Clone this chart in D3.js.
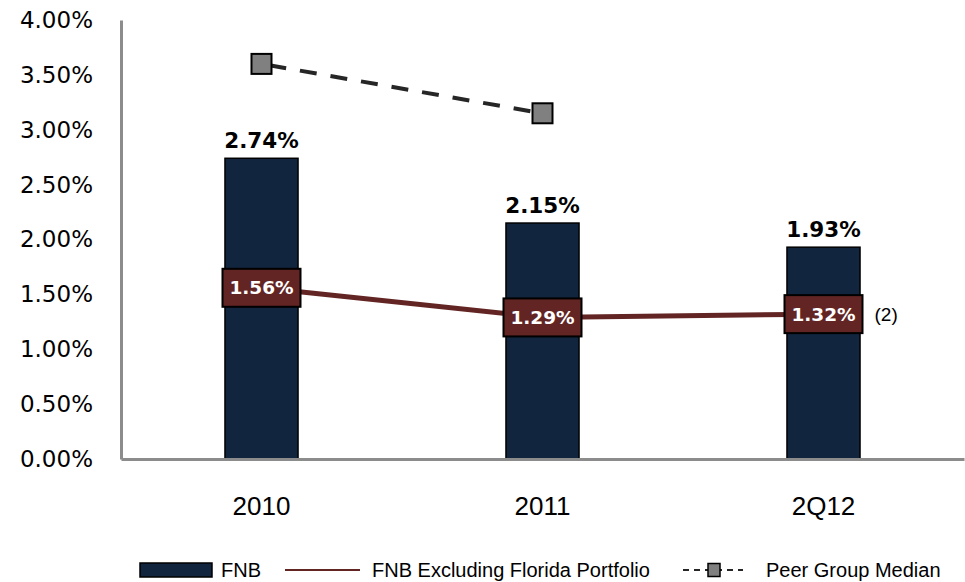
<!DOCTYPE html>
<html>
<head>
<meta charset="utf-8">
<script src="https://cdn.jsdelivr.net/npm/d3@7"></script>
<style>
  body { margin: 0; background: #fff; }
  svg { display: block; }
</style>
</head>
<body>
<div id="chart"></div>
<script>
// data
const periods = ["2010", "2011", "2Q12"];
const fnb = [2.74, 2.15, 1.93];
const fnbExFlorida = [1.56, 1.29, 1.32];
const peerMedian = [3.60, 3.15, null];
const yTicks = [0, 0.5, 1, 1.5, 2, 2.5, 3, 3.5, 4];

const width = 965, height = 582;
const margin = { top: 20, right: 1, bottom: 123, left: 121 };

const barColor = "#12253f";
const lineColor = "#632523";
const peerColor = "#808080";

const svg = d3.select("#chart").append("svg")
  .attr("width", width)
  .attr("height", height);

const x = d3.scaleBand()
  .domain(periods)
  .range([margin.left, width - margin.right])
  .paddingInner(0.74)
  .paddingOuter(0.37);

const y = d3.scaleLinear()
  .domain([0, 4])
  .range([height - margin.bottom, margin.top]);

const cx = d => x(d) + x.bandwidth() / 2;

// y axis
const yAxis = g => g
  .attr("transform", `translate(${margin.left},0)`)
  .call(d3.axisLeft(y).tickValues(yTicks).tickSize(0).tickPadding(28)
    .tickFormat(d => d.toFixed(2) + "%"))
  .call(g => g.select(".domain").attr("stroke", "#8c8c8c").attr("stroke-width", 3))
  .call(g => g.selectAll("text")
    .attr("fill", "#000")
    .style("font", "23px 'DejaVu Sans', sans-serif"));

// x axis
const xAxis = g => g
  .attr("transform", `translate(0,${y(0)})`)
  .call(d3.axisBottom(x).tickSize(0).tickPadding(38))
  .call(g => g.select(".domain").attr("stroke", "#8c8c8c").attr("stroke-width", 3))
  .call(g => g.selectAll("text")
    .attr("fill", "#000")
    .style("font", "26px 'Liberation Sans', sans-serif"));

// bars
svg.append("g")
  .selectAll("rect")
  .data(fnb)
  .join("rect")
  .attr("x", (d, i) => x(periods[i]))
  .attr("y", d => y(d))
  .attr("width", x.bandwidth())
  .attr("height", d => y(0) - y(d))
  .attr("fill", barColor)
  .attr("stroke", "#000")
  .attr("stroke-width", 1.5);

svg.append("g").call(yAxis);
svg.append("g").call(xAxis);

// bar value labels
svg.append("g")
  .selectAll("text")
  .data(fnb)
  .join("text")
  .attr("x", (d, i) => cx(periods[i]))
  .attr("y", d => y(d) - 10)
  .attr("text-anchor", "middle")
  .style("font", "bold 21.5px 'DejaVu Sans', sans-serif")
  .text(d => d.toFixed(2) + "%");

// peer group median dashed line
const peerPts = peerMedian.map((v, i) => ({ p: periods[i], v })).filter(d => d.v != null);
const peerLine = d3.line().x(d => cx(d.p)).y(d => y(d.v));

svg.append("path")
  .datum(peerPts)
  .attr("fill", "none")
  .attr("stroke", "#262626")
  .attr("stroke-width", 4)
  .attr("stroke-dasharray", "17,14")
  .attr("stroke-dashoffset", -8)
  .attr("d", peerLine);

svg.append("g")
  .selectAll("rect")
  .data(peerPts)
  .join("rect")
  .attr("x", d => cx(d.p) - 10)
  .attr("y", d => y(d.v) - 10)
  .attr("width", 20)
  .attr("height", 20)
  .attr("fill", peerColor)
  .attr("stroke", "#000")
  .attr("stroke-width", 2);

// FNB excluding Florida line
const exPts = fnbExFlorida.map((v, i) => ({ p: periods[i], v }));
svg.append("path")
  .datum(exPts)
  .attr("fill", "none")
  .attr("stroke", lineColor)
  .attr("stroke-width", 5)
  .attr("d", d3.line().x(d => cx(d.p)).y(d => y(d.v)));

const boxes = svg.append("g")
  .selectAll("g")
  .data(exPts)
  .join("g")
  .attr("transform", d => `translate(${cx(d.p)},${y(d.v)})`);

boxes.append("rect")
  .attr("x", -39)
  .attr("y", -19)
  .attr("width", 78)
  .attr("height", 38)
  .attr("fill", lineColor)
  .attr("stroke", "#000")
  .attr("stroke-width", 2);

boxes.append("text")
  .attr("text-anchor", "middle")
  .attr("dy", "0.36em")
  .attr("fill", "#fff")
  .style("font", "bold 18.5px 'DejaVu Sans', sans-serif")
  .text(d => d.v.toFixed(2) + "%");

// footnote marker
svg.append("text")
  .attr("x", cx("2Q12") + 51)
  .attr("y", y(fnbExFlorida[2]))
  .attr("dy", "0.36em")
  .style("font", "19px 'Liberation Sans', sans-serif")
  .text("(2)");

// legend
const legend = svg.append("g")
  .style("font", "20px 'Liberation Sans', sans-serif");
const ly = 570;

legend.append("rect")
  .attr("x", 140).attr("y", ly - 7)
  .attr("width", 72).attr("height", 14)
  .attr("fill", barColor).attr("stroke", "#000").attr("stroke-width", 1.5);
legend.append("text").attr("x", 221).attr("y", ly).attr("dy", "0.35em").text("FNB");

legend.append("line")
  .attr("x1", 285).attr("x2", 360).attr("y1", ly).attr("y2", ly)
  .attr("stroke", lineColor).attr("stroke-width", 2);
legend.append("text").attr("x", 372).attr("y", ly).attr("dy", "0.35em")
  .text("FNB Excluding  Florida Portfolio");

legend.append("line")
  .attr("x1", 683).attr("x2", 743).attr("y1", ly).attr("y2", ly)
  .attr("stroke", "#262626").attr("stroke-width", 2)
  .attr("stroke-dasharray", "6,5");
legend.append("rect")
  .attr("x", 708).attr("y", ly - 6.5)
  .attr("width", 12).attr("height", 13)
  .attr("fill", peerColor).attr("stroke", "#000").attr("stroke-width", 1.5);
legend.append("text").attr("x", 766).attr("y", ly).attr("dy", "0.35em")
  .text("Peer Group Median");
</script>
</body>
</html>
